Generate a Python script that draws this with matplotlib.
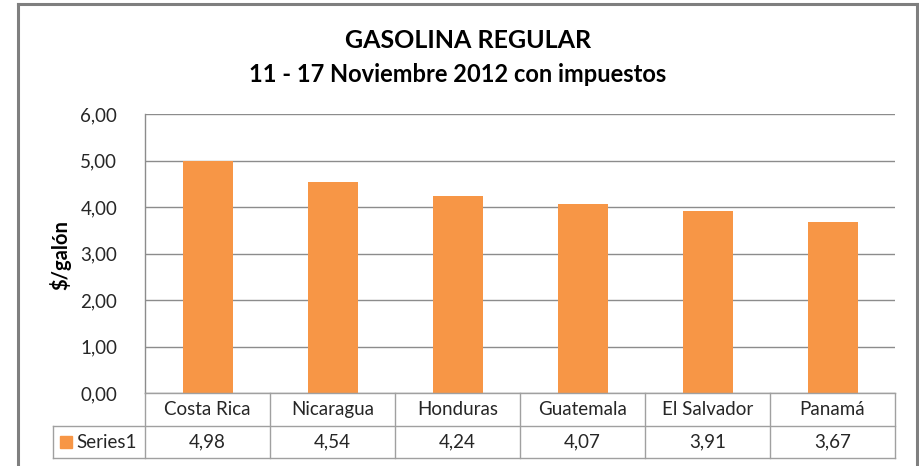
import matplotlib
matplotlib.use("Agg")
import matplotlib.pyplot as plt
from matplotlib.lines import Line2D
from matplotlib.patches import Rectangle

categories = ["Costa Rica", "Nicaragua", "Honduras", "Guatemala", "El Salvador", "Panamá"]
values = [4.98, 4.54, 4.24, 4.07, 3.91, 3.67]
series_name = "Series1"
yticks = [0, 1, 2, 3, 4, 5, 6]
title = "GASOLINA REGULAR"
subtitle = "11 - 17 Noviembre 2012 con impuestos"
ylabel = "$/galón"

plt.rcParams['font.family'] = ['Lato', 'DejaVu Sans']
W, H = 919, 466
fig = plt.figure(figsize=(W / 100, H / 100), dpi=100)
fig.patch.set_facecolor("white")

bar_color = "#F79646"
grid_color = "#8C8C8C"
text_color = "#262626"

# outer frame
def fx(x): return x / W
def fy(y): return 1 - y / H
for (x0, y0, x1, y1) in [(18, 4, 917, 4), (18, 4, 18, 470), (917, 4, 917, 470)]:
    fig.add_artist(Line2D([fx(x0), fx(x1)], [fy(y0), fy(y1)], color="#7F7F7F", lw=2.2,
                          transform=fig.transFigure))

L, R, T, B = 145, 895, 114, 393
ax = fig.add_axes([fx(L), fy(B), (R - L) / W, (B - T) / H])
x = list(range(len(categories)))
ax.bar(x, values, width=0.4, color=bar_color, zorder=3)
ax.set_xlim(-0.5, len(categories) - 0.5)
ax.set_ylim(0, 6)
ax.set_yticks(yticks)
ax.set_yticklabels([f"{v:.2f}".replace(".", ",") for v in yticks], fontsize=13.5, color=text_color)
ax.tick_params(axis="y", length=0, pad=20)
ax.set_xticks([])
ax.grid(axis="y", color=grid_color, lw=1.0, zorder=0)
for s in ["top", "right", "bottom"]:
    ax.spines[s].set_visible(False)
ax.spines["left"].set_color(grid_color)
ax.spines["left"].set_linewidth(1.0)

# data table below
row1 = (393, 426)
row2 = (426, 458)
tl = 53
colw = (R - L) / len(categories)
lc = "#A0A0A0"
def hline(y, x0, x1):
    fig.add_artist(Line2D([fx(x0), fx(x1)], [fy(y), fy(y)], color=lc, lw=1.0, transform=fig.transFigure))
def vline(xp, y0, y1):
    fig.add_artist(Line2D([fx(xp), fx(xp)], [fy(y0), fy(y1)], color=lc, lw=1.0, transform=fig.transFigure))
hline(row1[0], L, R)
hline(row2[0], tl, R)
hline(row2[1], tl, R)
vline(tl, row2[0], row2[1])
for i in range(len(categories) + 1):
    vline(L + i * colw, row1[0], row2[1])
for i, (c, v) in enumerate(zip(categories, values)):
    cx = L + (i + 0.5) * colw
    fig.text(fx(cx), fy((row1[0] + row1[1]) / 2), c, ha="center", va="center", fontsize=13.5, color=text_color)
    fig.text(fx(cx), fy((row2[0] + row2[1]) / 2), f"{v:.2f}".replace(".", ","), ha="center", va="center",
             fontsize=13.5, color=text_color)
fig.add_artist(Rectangle((fx(60), fy(448)), 12 / W, 12 / H, color=bar_color, transform=fig.transFigure))
fig.text(fx(76), fy((row2[0] + row2[1]) / 2), series_name, ha="left", va="center", fontsize=13.5, color=text_color)

fig.text(fx(468), fy(40), title, ha="center", va="center", fontsize=18, fontweight="bold", color="black")
fig.text(fx(458), fy(74), subtitle, ha="center", va="center", fontsize=17, fontweight="bold", color="black")
fig.text(fx(60), fy(255), ylabel, ha="center", va="center", rotation=90, fontsize=14.5, fontweight="bold", color="black")

fig.savefig("out.png", dpi=100, facecolor="white")
